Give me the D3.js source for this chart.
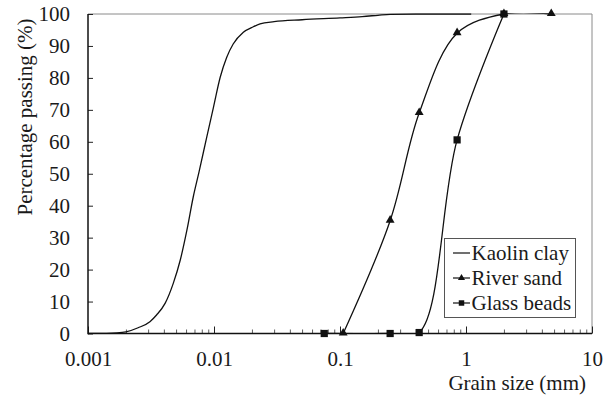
<!DOCTYPE html>
<html>
<head>
<meta charset="utf-8">
<script src="https://cdn.jsdelivr.net/npm/d3@7"></script>
<style>
  html, body { margin: 0; padding: 0; background: #fff; }
  svg { display: block; }
</style>
</head>
<body>
<svg id="chart" width="612" height="396"></svg>
<script>
// Grain size distribution (size in mm, percentage passing)
const kaolinSize = [0.001, 0.0014, 0.0017, 0.002, 0.0025, 0.0031, 0.0035, 0.0041, 0.00475, 0.0054,
  0.0061, 0.00685, 0.0076, 0.00875, 0.0099, 0.0112, 0.0126, 0.0142, 0.0171, 0.0205,
  0.0232, 0.03, 0.05, 0.1, 0.15, 0.2, 0.25, 0.4, 1.1];
const kaolinPassing = [0, 0.02, 0.15, 0.5, 1.8, 3.7, 5.8, 9.5, 15.7, 23,
  32.4, 42.8, 50.5, 61.4, 70.8, 80.2, 86.4, 90.6, 94.3, 96,
  96.9, 97.6, 98.2, 98.8, 99.2, 99.6, 99.9, 100, 100];

const sandSize = [0.106, 0.25, 0.425, 0.85, 2, 4.75];
const sandPassing = [0, 35.3, 69, 94, 100, 100];

const beadSize = [0.075, 0.25, 0.425, 0.85, 2];
const beadPassing = [0, 0, 0.3, 60.6, 100];

const xTickLabels = ["0.001", "0.01", "0.1", "1", "10"];
const yTicks = [0, 10, 20, 30, 40, 50, 60, 70, 80, 90, 100];

const svg = d3.select("#chart");
const fontSize = "21px";
const setFont = sel => sel.style("font-family", '"Liberation Serif"').style("font-size", fontSize).style("fill", "#1a1a1a");
const plotLeft = 88, plotRight = 592, plotTop = 14, plotBottom = 333.5;

const x = d3.scaleLog().domain([0.001, 10]).range([plotLeft, plotRight]);
const y = d3.scaleLinear().domain([0, 100]).range([plotBottom, plotTop]);

// clip for the smoothed curves so they stay within 0-100 %
svg.append("defs").append("clipPath").attr("id", "plot-clip")
  .append("rect").attr("x", plotLeft).attr("y", plotTop - 0.7)
  .attr("width", plotRight - plotLeft).attr("height", plotBottom - plotTop + 0.7);

// frame on the top and right
svg.append("line").attr("x1", plotLeft).attr("x2", plotRight).attr("y1", plotTop).attr("y2", plotTop)
  .attr("stroke", "#8a8a8a").attr("stroke-width", 1);
svg.append("line").attr("x1", plotRight).attr("x2", plotRight).attr("y1", plotTop).attr("y2", plotBottom)
  .attr("stroke", "#8a8a8a").attr("stroke-width", 1);

// x axis: minor ticks inside, decade ticks taller with labels
const decades = xTickLabels.map(Number);
const minor = [];
decades.slice(0, -1).forEach(d => { for (let k = 2; k <= 9; k++) minor.push(d * k); });

const xMinor = d3.axisBottom(x).tickValues(minor).tickSize(-4).tickFormat("");
const xMajor = d3.axisBottom(x).tickValues(decades).tickSize(-7).tickPadding(18)
  .tickFormat((d, i) => xTickLabels[i]);

const gxMinor = svg.append("g").attr("transform", `translate(0,${plotBottom})`).call(xMinor);
gxMinor.select(".domain").remove();
gxMinor.selectAll(".tick line").attr("stroke", "#333").attr("stroke-width", 0.8);

const gx = svg.append("g").attr("transform", `translate(0,${plotBottom})`).call(xMajor)
  .attr("font-family", null).attr("font-size", null);
gx.select(".domain").remove();
gx.selectAll(".tick line").attr("stroke", "#222").attr("stroke-width", 1);
gx.selectAll(".tick text").call(setFont);

// y axis: ticks inside
const yAxis = d3.axisLeft(y).tickValues(yTicks).tickSize(-5).tickPadding(18).tickFormat(d3.format("d"));
const gy = svg.append("g").attr("transform", `translate(${plotLeft},0)`).call(yAxis)
  .attr("font-family", null).attr("font-size", null);
gy.select(".domain").remove();
gy.selectAll(".tick line").attr("stroke", "#222").attr("stroke-width", 1);
gy.selectAll(".tick text").call(setFont);

// axis lines
svg.append("line").attr("x1", plotLeft).attr("x2", plotLeft).attr("y1", plotTop).attr("y2", plotBottom + 0.75)
  .attr("stroke", "#111").attr("stroke-width", 1.5);
svg.append("line").attr("x1", plotLeft).attr("x2", plotRight).attr("y1", plotBottom).attr("y2", plotBottom)
  .attr("stroke", "#111").attr("stroke-width", 1.5);

// axis titles
svg.append("text").attr("transform", "translate(32,117) rotate(-90)")
  .attr("text-anchor", "middle").call(setFont).text("Percentage passing (%)");
svg.append("text").attr("x", 586).attr("y", 390)
  .attr("text-anchor", "end").call(setFont).text("Grain size (mm)");

// curves
const toPts = (sx, sy) => sx.map((v, i) => [v, sy[i]]);
const kaolin = toPts(kaolinSize, kaolinPassing);
const sand = toPts(sandSize, sandPassing);
const beads = toPts(beadSize, beadPassing);

const smoothLine = d3.line().x(d => x(d[0])).y(d => y(d[1])).curve(d3.curveMonotoneX);
const sieveLine = d3.line().x(d => x(d[0])).y(d => y(d[1])).curve(d3.curveCatmullRom.alpha(0.5));

const g = svg.append("g").attr("clip-path", "url(#plot-clip)");
g.append("path").attr("d", smoothLine(kaolin)).attr("fill", "none").attr("stroke", "#111").attr("stroke-width", 1.3);
g.append("path").attr("d", sieveLine(sand)).attr("fill", "none").attr("stroke", "#111").attr("stroke-width", 1.3);
g.append("path").attr("d", sieveLine(beads)).attr("fill", "none").attr("stroke", "#111").attr("stroke-width", 1.3);

const tri = d3.symbol().type(d3.symbolTriangle).size(34);
const sq = d3.symbol().type(d3.symbolSquare).size(52);

const marks = svg.append("g");
marks.selectAll(".tri").data(sand).join("path").attr("class", "tri")
  .attr("d", tri).attr("transform", d => `translate(${x(d[0])},${y(d[1]) - 0.5})`).attr("fill", "#111");
marks.selectAll(".sq").data(beads).join("path").attr("class", "sq")
  .attr("d", sq).attr("transform", d => `translate(${x(d[0])},${y(d[1])})`).attr("fill", "#111");

// legend
const legend = svg.append("g");
legend.append("rect").attr("x", 444.5).attr("y", 238.5).attr("width", 131).attr("height", 79)
  .attr("fill", "#fff").attr("stroke", "#555").attr("stroke-width", 1);
const items = [
  { label: "Kaolin clay", marker: null },
  { label: "River sand", marker: d3.symbol().type(d3.symbolTriangle).size(22) },
  { label: "Glass beads", marker: d3.symbol().type(d3.symbolSquare).size(30) }
];
items.forEach((it, i) => {
  const cy = 253 + i * 25;
  legend.append("line").attr("x1", 453).attr("x2", 470).attr("y1", cy).attr("y2", cy)
    .attr("stroke", "#111").attr("stroke-width", 1.2);
  if (it.marker) {
    legend.append("path").attr("d", it.marker).attr("transform", `translate(461.5,${cy})`).attr("fill", "#111");
  }
  legend.append("text").attr("x", 471.5).attr("y", cy).attr("dy", "0.35em")
    .call(setFont).text(it.label);
});
</script>
</body>
</html>
